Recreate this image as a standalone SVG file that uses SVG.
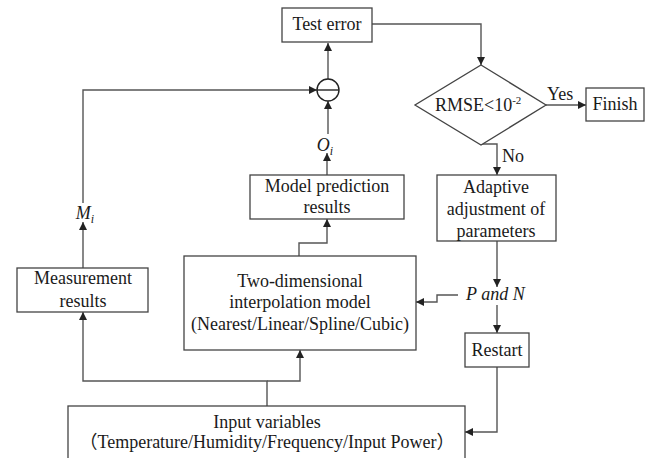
<svg xmlns="http://www.w3.org/2000/svg" width="656" height="458" viewBox="0 0 656 458">
<defs>
<marker id="arr" markerUnits="userSpaceOnUse" markerWidth="9" markerHeight="8" refX="8" refY="4" orient="auto">
<path d="M0,0 L8,4 L0,8 Z" fill="#222"/>
</marker>
<style>
.box{fill:#fff;stroke:#444;stroke-width:1.3}
.ln{fill:none;stroke:#555;stroke-width:1.4}
.t{font-family:'Liberation Serif','Times New Roman',serif;font-size:18px;fill:#1a1a1a;text-anchor:middle}
.cjk{font-family:'Noto Sans CJK SC',sans-serif}
.s{text-anchor:start}
.i{font-style:italic}
</style>
</defs>
<rect width="656" height="458" fill="#fff"/>

<g id="connectors">
<path class="ln" d="M328,79 V43" marker-end="url(#arr)"/>
<path class="ln" d="M372,24 H481 V65" marker-end="url(#arr)"/>
<path class="ln" d="M546,105 H586" marker-end="url(#arr)"/>
<path class="ln" d="M480,144 H497 V175" marker-end="url(#arr)"/>
<path class="ln" d="M497,241 V287" marker-end="url(#arr)"/>
<path class="ln" d="M497,305 V333" marker-end="url(#arr)"/>
<path class="ln" d="M458,295 H437 V302 H416" marker-end="url(#arr)"/>
<path class="ln" d="M497,367 V432 H465" marker-end="url(#arr)"/>
<path class="ln" d="M267,406 V381 H83 V312" marker-end="url(#arr)"/>
<path class="ln" d="M267,381 H300 V350" marker-end="url(#arr)"/>
<path class="ln" d="M299,256 V243 H327 V219" marker-end="url(#arr)"/>
<path class="ln" d="M327,175 V153" marker-end="url(#arr)"/>
<path class="ln" d="M328,134 V101" marker-end="url(#arr)"/>
<path class="ln" d="M83,268 V222" marker-end="url(#arr)"/>
<path class="ln" d="M83,203 V90 H317" marker-end="url(#arr)"/>
</g>

<g id="test-error">
<rect class="box" x="282" y="8" width="90" height="34"/>
<text class="t" x="327" y="30">Test error</text>
</g>

<g id="subtract">
<circle cx="328" cy="90" r="11" fill="#fff" stroke="#222" stroke-width="1.4"/>
<line x1="317" y1="90" x2="339" y2="90" stroke="#222" stroke-width="1.4"/>
</g>

<g id="decision">
<polygon class="box" points="481,65 546,105 481,145 415,105"/>
<text class="t s" x="435" y="111" font-size="17">RMSE&lt;10<tspan dy="-7" font-size="11">-2</tspan></text>
</g>

<g id="finish">
<rect class="box" x="586" y="88" width="58" height="33"/>
<text class="t" x="615" y="110">Finish</text>
</g>

<g id="labels">
<text class="t s" x="547" y="100">Yes</text>
<text class="t s" x="502" y="162">No</text>
<text class="t s i" x="466" y="300">P and N</text>
<text class="t i" x="325" y="151">O<tspan dy="4" font-size="12">i</tspan></text>
<text class="t i" x="85" y="219">M<tspan dy="4" font-size="12">i</tspan></text>
</g>

<g id="adaptive">
<rect class="box" x="437" y="175" width="119" height="66"/>
<text class="t" x="496" y="193">Adaptive</text>
<text class="t" x="496" y="215">adjustment of</text>
<text class="t" x="496" y="237">parameters</text>
</g>

<g id="restart">
<rect class="box" x="465" y="333" width="64" height="34"/>
<text class="t" x="497" y="356">Restart</text>
</g>

<g id="model-prediction">
<rect class="box" x="250" y="175" width="154" height="44"/>
<text class="t" x="327" y="192">Model prediction</text>
<text class="t" x="327" y="213">results</text>
</g>

<g id="interpolation-model">
<rect class="box" x="184" y="256" width="232" height="94"/>
<text class="t" x="300" y="287">Two-dimensional</text>
<text class="t" x="300" y="308">interpolation model</text>
<text class="t" x="300" y="330">(Nearest/Linear/Spline/Cubic)</text>
</g>

<g id="measurement">
<rect class="box" x="17" y="268" width="131" height="44"/>
<text class="t" x="83" y="284">Measurement</text>
<text class="t" x="83" y="307">results</text>
</g>

<g id="input-variables">
<rect class="box" x="68" y="406" width="397" height="60"/>
<text class="t" x="267" y="428">Input variables</text>
<text class="t" x="267" y="448"><tspan class="cjk">（</tspan>Temperature/Humidity/Frequency/Input Power<tspan class="cjk">）</tspan></text>
</g>
</svg>
